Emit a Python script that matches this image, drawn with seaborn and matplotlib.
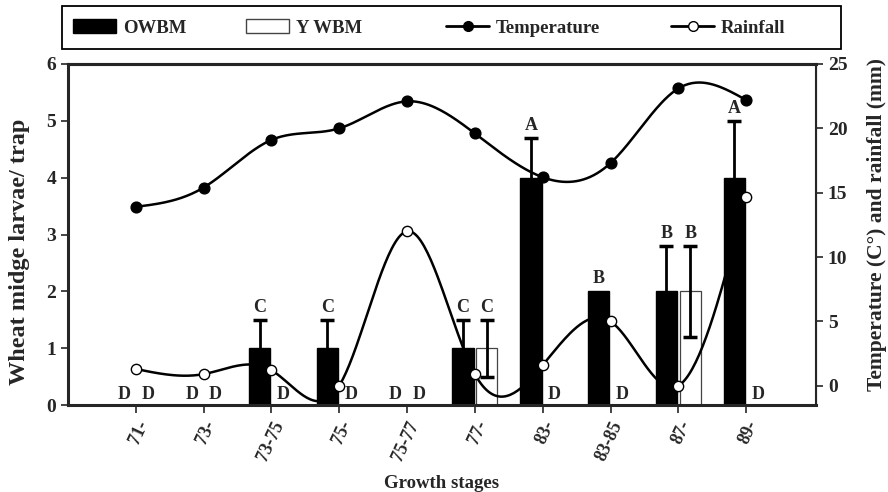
import numpy as np
import pandas as pd
import seaborn as sns
import matplotlib.pyplot as plt
from matplotlib.patches import Patch, Rectangle
from matplotlib.lines import Line2D

# growth stages and values
stages = ['71-', '73-', '73-75', '75-', '75-77', '77-', '83-', '83-85', '87-', '89-']
owbm = [0, 0, 1, 1, 0, 1, 4, 2, 2, 4]
owbm_err = [0, 0, 0.5, 0.5, 0, 0.5, 0.7, 0, 0.8, 1.0]
ywbm = [0, 0, 0, 0, 0, 1, 0, 0, 2, 0]
ywbm_err = [0, 0, 0, 0, 0, 0.5, 0, 0, 0.8, 0]
owbm_letters = ['D', 'D', 'C', 'C', 'D', 'C', 'A', 'B', 'B', 'A']
ywbm_letters = ['D', 'D', 'D', 'D', 'D', 'C', 'D', 'D', 'B', 'D']
temperature = [13.9, 15.4, 19.1, 20.0, 22.1, 19.6, 16.2, 17.3, 23.1, 22.2]
rainfall = [1.3, 0.9, 1.2, 0.0, 12.0, 0.9, 1.6, 5.0, 0.0, 14.7]


def natural_spline(y, n=40):
    # natural cubic spline through equally spaced points (for the smooth curves)
    y = np.asarray(y, float)
    k = len(y)
    A = np.zeros((k, k))
    r = np.zeros(k)
    A[0, 0] = A[-1, -1] = 1
    for i in range(1, k - 1):
        A[i, i - 1], A[i, i], A[i, i + 1] = 1, 4, 1
        r[i] = 6 * (y[i + 1] - 2 * y[i] + y[i - 1])
    m = np.linalg.solve(A, r)
    xs, ys = [], []
    for i in range(k - 1):
        t = np.linspace(0, 1, n, endpoint=(i == k - 2))
        seg = ((1 - t) * y[i] + t * y[i + 1]
               + ((1 - t) ** 3 - (1 - t)) * m[i] / 6 + (t ** 3 - t) * m[i + 1] / 6)
        xs.append(i + t)
        ys.append(seg)
    return np.concatenate(xs), np.concatenate(ys)


sns.set_style('ticks')
plt.rcParams['font.family'] = ['Liberation Serif', 'DejaVu Serif']
plt.rcParams['font.weight'] = 'bold'
plt.rcParams['axes.labelweight'] = 'bold'

fig = plt.figure(figsize=(8.88, 4.92), dpi=100)
ax = fig.add_axes([68 / 888, 87 / 492, 748 / 888, 341 / 492])

df = pd.DataFrame({'stage': stages * 2,
                   'value': owbm + ywbm,
                   'type': ['OWBM'] * len(stages) + ['Y WBM'] * len(stages)})
sns.barplot(data=df, x='stage', y='value', hue='type', order=stages,
            palette={'OWBM': 'black', 'Y WBM': 'white'}, width=0.7, gap=0.1,
            errorbar=None, legend=False, ax=ax, zorder=2)
for p in ax.patches:
    if p.get_facecolor()[0] > 0.5:
        p.set_edgecolor('#444444')
        p.set_linewidth(0.9)
    else:
        p.set_edgecolor('black')

pos = np.arange(len(stages))
off = 0.175
for shift, vals, errs, letters in [(-off, owbm, owbm_err, owbm_letters),
                                   (off, ywbm, ywbm_err, ywbm_letters)]:
    v = np.array(vals, float)
    e = np.array(errs, float)
    has = e > 0
    ax.errorbar(pos[has] + shift, v[has], yerr=e[has], fmt='none', ecolor='black',
                elinewidth=2, capsize=5, capthick=2.5, zorder=3)
    for xi, vi, ei, lab in zip(pos + shift, v, e, letters):
        if vi == 0:
            ax.text(xi, 0.04, lab, ha='center', va='bottom', fontsize=13,
                    fontweight='bold')
        else:
            ax.text(xi, vi + ei + 0.07, lab, ha='center', va='bottom', fontsize=13,
                    fontweight='bold')

ax.set_xlim(-1, 10.03)
ax.set_ylim(0, 6)
ax.set_yticks(range(7))
ax.set_xlabel('Growth stages', fontsize=13.5, fontweight='bold')
ax.set_ylabel('Wheat midge larvae/ trap', fontsize=17.5, fontweight='bold')
ax.xaxis.set_label_coords(0.5, -0.205)
ax.yaxis.set_label_coords(-0.065, 0.449)
ax.yaxis.label.set_va('center')
ax.tick_params(axis='y', labelsize=14, direction='out', length=5, width=1.2)
ax.tick_params(axis='x', labelsize=13, direction='out', length=6, width=1.2)
for lab in ax.get_xticklabels():
    lab.set_rotation(65)
    lab.set_ha('right')
    lab.set_rotation_mode('anchor')
    lab.set_fontweight('bold')
for lab in ax.get_yticklabels():
    lab.set_fontweight('bold')
for s in ['left', 'bottom', 'top']:
    ax.spines[s].set_linewidth(2.2)
    ax.spines[s].set_visible(True)

ax2 = ax.twinx()
tx, ty = natural_spline(temperature)
rx, ry = natural_spline(rainfall)
sns.lineplot(x=tx, y=ty, color='black', lw=1.8, ax=ax2, sort=False)
sns.lineplot(x=rx, y=ry, color='black', lw=1.8, ax=ax2, sort=False)
sns.scatterplot(x=pos, y=temperature, color='black', s=60, edgecolor='black',
                linewidth=1, ax=ax2, zorder=5)
sns.scatterplot(x=pos, y=rainfall, color='white', s=55, edgecolor='black',
                linewidth=1, ax=ax2, zorder=5)
ax2.set_ylim(-1.5, 25)
ax2.set_yticks([0, 5, 10, 15, 20, 25])
ax2.set_ylabel('Temperature (C°) and rainfall (mm)', fontsize=15.5, fontweight='bold')
ax2.yaxis.set_label_coords((877 - 68) / 748, 0.528)
ax2.yaxis.label.set_va('center')
ax2.tick_params(axis='y', labelsize=14, direction='out', length=5, width=1.2)
for lab in ax2.get_yticklabels():
    lab.set_fontweight('bold')
ax2.spines['right'].set_linewidth(1.5)
ax2.spines['top'].set_linewidth(2.2)
ax2.spines['left'].set_visible(False)
ax2.spines['bottom'].set_visible(False)

# legend box across the top, one entry per fixed slot
fig.patches.append(Rectangle((62 / 888, 1 - 49 / 492), 779 / 888, 43 / 492,
                             transform=fig.transFigure, fill=False,
                             edgecolor='black', linewidth=1.3))
legend_labels = ['OWBM', 'Y WBM', 'Temperature', 'Rainfall']
legend_handles = [Patch(facecolor='black', edgecolor='black'),
                  Patch(facecolor='white', edgecolor='#444444'),
                  Line2D([], [], color='black', lw=2, marker='o', markersize=7,
                         markerfacecolor='black'),
                  Line2D([], [], color='black', lw=2, marker='o', markersize=7,
                         markerfacecolor='white')]
legend_x = [73, 246, 446, 671]
for h, lab, x0 in zip(legend_handles, legend_labels, legend_x):
    fig.legend([h], [lab], loc='center left', bbox_to_anchor=(x0 / 888, 1 - 28 / 492),
               prop={'size': 13.5, 'weight': 'bold'}, frameon=False,
               handlelength=2.3, handletextpad=0.35, borderpad=0, borderaxespad=0)

fig.savefig('out.png', dpi=100)
